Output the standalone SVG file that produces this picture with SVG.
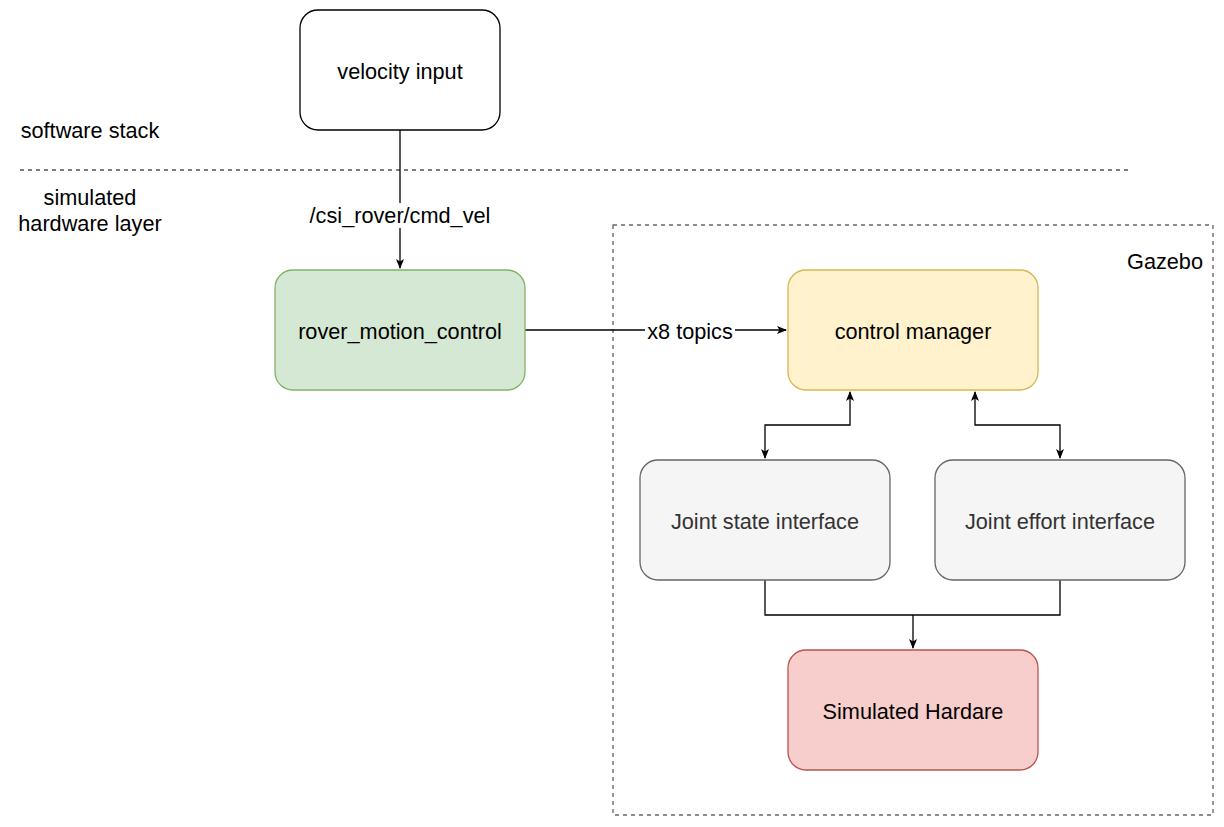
<svg xmlns="http://www.w3.org/2000/svg" width="1224" height="827" viewBox="0 0 1224 827">
<style>
text{font-family:"Liberation Sans",Arial,Helvetica,sans-serif;font-size:21.7px;fill:#000}
.c{text-anchor:middle}
.node{stroke-width:1.3}
.edge{fill:none;stroke:#000;stroke-width:1.3}
.grey{fill:#333}
</style>
<defs>
<marker id="ah" viewBox="0 0 10 10" refX="9" refY="5" markerWidth="10" markerHeight="10" markerUnits="userSpaceOnUse" orient="auto-start-reverse">
<path d="M0,1 L10,5 L0,9 L2.5,5 Z" fill="#000"/>
</marker>
</defs>
<rect width="1224" height="827" fill="#fff"/>

<g id="layers">
<line x1="20" y1="170" x2="1128" y2="170" stroke="#000" stroke-width="1" stroke-dasharray="4,4"/>
<text class="c" x="90" y="138">software stack</text>
<text class="c" x="90" y="205">simulated</text>
<text class="c" x="90" y="231">hardware layer</text>
</g>

<g id="gazebo">
<rect x="613" y="225" width="600" height="590" fill="none" stroke="#666" stroke-width="1.3" stroke-dasharray="4,4"/>
<text x="1203" y="269" text-anchor="end">Gazebo</text>
</g>

<g id="connectors">
<path class="edge" d="M400,130 V268" marker-end="url(#ah)"/>
<rect x="300" y="203" width="200" height="25" fill="#fff"/>
<text class="c" x="400" y="223">/csi_rover/cmd_vel</text>
<path class="edge" d="M525,330 H786" marker-end="url(#ah)"/>
<rect x="645" y="319" width="90" height="24" fill="#fff"/>
<text class="c" x="690" y="339">x8 topics</text>
<path class="edge" d="M850,392 V425 H765 V458" marker-start="url(#ah)" marker-end="url(#ah)"/>
<path class="edge" d="M975,392 V425 H1060 V458" marker-start="url(#ah)" marker-end="url(#ah)"/>
<path class="edge" d="M765,580 V615 H1060 V580"/>
<path class="edge" d="M913,615 V648" marker-end="url(#ah)"/>
</g>

<g id="velocity-input">
<rect class="node" x="300" y="10" width="200" height="120" rx="18" fill="#fff" stroke="#000"/>
<text class="c" x="400" y="79">velocity input</text>
</g>

<g id="rover-motion-control">
<rect class="node" x="275" y="270" width="250" height="120" rx="18" fill="#d5e8d4" stroke="#82b366"/>
<text class="c" x="400" y="339">rover_motion_control</text>
</g>

<g id="control-manager">
<rect class="node" x="788" y="270" width="250" height="120" rx="18" fill="#fff2cc" stroke="#d6b656"/>
<text class="c" x="913" y="339">control manager</text>
</g>

<g id="joint-state-interface">
<rect class="node" x="640" y="460" width="250" height="120" rx="18" fill="#f5f5f5" stroke="#666"/>
<text class="c grey" x="765" y="529">Joint state interface</text>
</g>

<g id="joint-effort-interface">
<rect class="node" x="935" y="460" width="250" height="120" rx="18" fill="#f5f5f5" stroke="#666"/>
<text class="c grey" x="1060" y="529">Joint effort interface</text>
</g>

<g id="simulated-hardare">
<rect class="node" x="788" y="650" width="250" height="120" rx="18" fill="#f8cecc" stroke="#b85450"/>
<text class="c" x="913" y="719">Simulated Hardare</text>
</g>
</svg>
